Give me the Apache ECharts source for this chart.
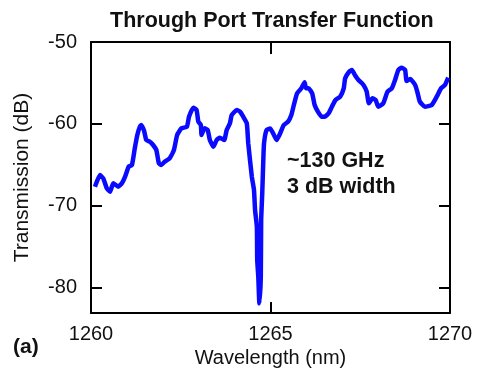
<!DOCTYPE html>
<html>
<head>
<meta charset="utf-8">
<script src="https://cdn.jsdelivr.net/npm/echarts@6/dist/echarts.min.js"></script>
<style>html,body{margin:0;padding:0;background:#fff}#c{width:477px;height:377px}</style>
</head>
<body>
<div id="c"></div>
<script>
const wavelength = [
1260.11,1260.25,1260.34,1260.44,1260.53,1260.62,1260.76,1260.86,1260.95,1261.05,
1261.14,1261.22,1261.29,1261.36,1261.40,1261.48,1261.54,1261.64,1261.73,1261.82,
1261.89,1261.96,1262.05,1262.19,1262.31,1262.40,1262.52,1262.67,1262.73,1262.85,
1262.94,1262.99,1263.06,1263.08,1263.16,1263.25,1263.31,1263.41,1263.50,1263.59,
1263.71,1263.78,1263.87,1263.92,1264.06,1264.15,1264.24,1264.34,1264.38,1264.48,
1264.54,1264.57,1264.62,1264.63,1264.66,1264.69,1264.73,1264.74,1264.77,1264.80,
1264.82,1264.89,1264.99,1265.07,1265.17,1265.27,1265.37,1265.49,1265.58,1265.65,
1265.74,1265.86,1265.95,1265.99,1266.06,1266.16,1266.23,1266.32,1266.42,1266.51,
1266.62,1266.71,1266.81,1266.94,1267.04,1267.08,1267.19,1267.27,1267.35,1267.45,
1267.59,1267.68,1267.74,1267.84,1267.93,1268.00,1268.14,1268.26,1268.38,1268.47,
1268.56,1268.65,1268.75,1268.79,1268.89,1269.03,1269.10,1269.16,1269.30,1269.49,
1269.63,1269.75,1269.86,1269.95
];
const transmission = [
-67.67,-66.25,-66.65,-67.87,-68.28,-67.26,-67.67,-67.26,-66.45,-65.23,
-65.02,-62.98,-61.36,-60.35,-60.14,-60.87,-61.97,-62.18,-62.58,-63.19,
-64.82,-65.02,-64.62,-64.21,-63.19,-61.36,-60.54,-60.35,-59.12,-58.02,
-58.31,-59.73,-60.14,-61.36,-60.54,-60.75,-61.97,-62.79,-61.97,-61.69,
-61.97,-60.75,-59.93,-58.92,-58.31,-58.51,-59.12,-59.93,-62.37,-66.45,
-68.08,-70.52,-72.56,-76.63,-78.67,-81.92,-78.67,-71.74,-68.48,-64.41,
-62.37,-60.75,-60.57,-61.12,-61.97,-61.15,-60.14,-59.73,-58.92,-57.70,
-56.27,-55.66,-54.92,-55.66,-55.66,-56.27,-57.70,-58.51,-59.12,-59.12,
-58.71,-57.90,-57.08,-56.68,-55.66,-54.43,-53.63,-53.42,-54.03,-54.64,
-55.25,-56.07,-57.49,-56.88,-57.08,-57.90,-57.49,-56.07,-55.66,-54.64,
-53.42,-53.14,-53.42,-54.76,-54.52,-55.25,-56.27,-57.29,-57.90,-57.70,
-56.68,-55.66,-55.25,-54.36
];
const xTickLabels = [1260, 1265, 1270];
const yTickLabels = [-80, -70, -60, -50];
const yInnerTicks = [-80, -70, -60];
const xInnerTicks = [1265];

const FONT = "'Liberation Sans', Arial, sans-serif";
const chart = echarts.init(document.getElementById('c'), null, {renderer: 'canvas'});
const lineStyle = {color: '#000', width: 2};
chart.setOption({
  animation: false,
  backgroundColor: '#fff',
  title: {
    text: 'Through Port Transfer Function',
    left: 105, top: 5,
    textStyle: {fontFamily: FONT, fontSize: 21.5, fontWeight: 'bold', color: '#111'}
  },
  grid: {left: 91, top: 42, width: 359, height: 271, containLabel: false},
  xAxis: [{
    type: 'value', position: 'bottom', min: 1260, max: 1270, interval: 5,
    name: 'Wavelength (nm)', nameLocation: 'middle', nameGap: 34,
    nameTextStyle: {fontFamily: FONT, fontSize: 20, color: '#111'},
    axisLine: {onZero: false, lineStyle: lineStyle},
    axisTick: {inside: true, length: 11, lineStyle: lineStyle, customValues: xInnerTicks},
    axisLabel: {fontFamily: FONT, fontSize: 20, color: '#111', margin: 11, customValues: xTickLabels, formatter: v => String(v)},
    splitLine: {show: false}
  }, {
    type: 'value', position: 'top', min: 1260, max: 1270, interval: 5,
    axisLine: {onZero: false, lineStyle: lineStyle},
    axisTick: {inside: true, length: 12, lineStyle: lineStyle, customValues: xInnerTicks},
    axisLabel: {show: false},
    splitLine: {show: false}
  }],
  yAxis: [{
    type: 'value', position: 'left', min: -83.1, max: -50,
    name: 'Transmission (dB)', nameLocation: 'middle', nameGap: 58,
    nameTextStyle: {fontFamily: FONT, fontSize: 21, color: '#111'},
    axisLine: {onZero: false, lineStyle: lineStyle},
    axisTick: {inside: true, length: 11, lineStyle: lineStyle, customValues: yInnerTicks},
    axisLabel: {fontFamily: FONT, fontSize: 20, color: '#111', margin: 14, customValues: yTickLabels, formatter: v => String(v)},
    splitLine: {show: false}
  }, {
    type: 'value', position: 'right', min: -83.1, max: -50,
    axisLine: {onZero: false, lineStyle: lineStyle},
    axisTick: {inside: true, length: 11, lineStyle: lineStyle, customValues: yInnerTicks},
    axisLabel: {show: false},
    splitLine: {show: false}
  }],
  graphic: [
    {type: 'text', left: 287, top: 148, style: {text: '~130 GHz\n3 dB width', fontFamily: FONT, fontSize: 21.5, fontWeight: 'bold', fill: '#111', lineHeight: 26}},
    {type: 'text', left: 13, top: 337, style: {text: '(a)', fontFamily: FONT, fontSize: 21, fontWeight: 'bold', fill: '#111'}}
  ],
  series: [{
    type: 'line', xAxisIndex: 0, yAxisIndex: 0,
    data: wavelength.map((w, i) => [w, transmission[i]]),
    showSymbol: false, symbol: 'none', smooth: 0.15,
    lineStyle: {color: '#0a0aff', width: 4.5},
    clip: true
  }]
});
</script>
</body>
</html>
